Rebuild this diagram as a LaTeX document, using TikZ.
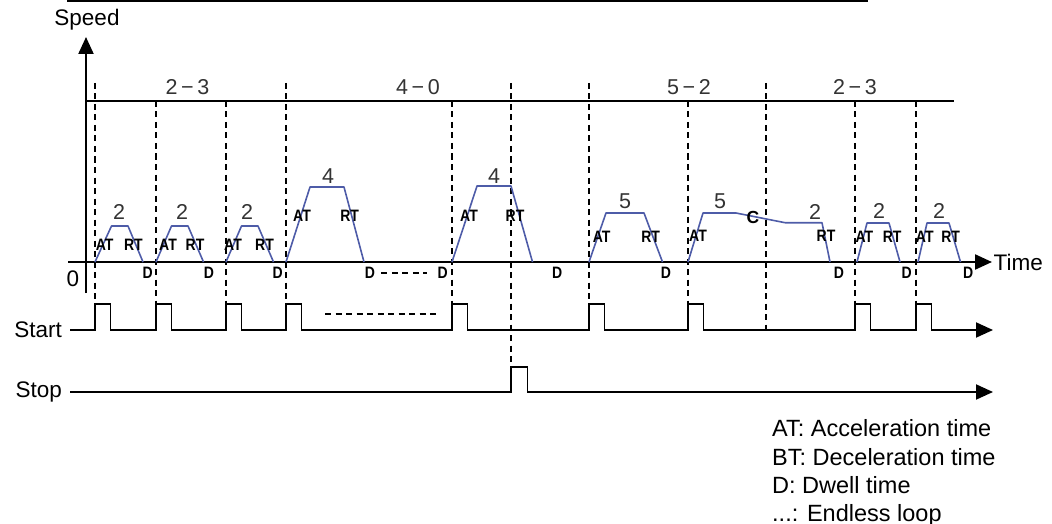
\documentclass[tikz,border=0pt]{standalone}
\usepackage{fontspec}
\setmainfont{Liberation Sans}
\newfontfamily\tagfont[FakeStretch=0.85]{Liberation Sans}
\usetikzlibrary{arrows.meta,positioning}
\definecolor{pblue}{HTML}{4E5CA8}
\definecolor{pgray}{HTML}{333333}

\begin{document}
\begin{tikzpicture}[x=1pt,y=-1pt,every node/.style={font=\fontsize{22.5}{27}\selectfont,inner sep=0pt},tlabel/.style={font=\tagfont\fontsize{16.5}{19}\selectfont\bfseries},num/.style={font=\fontsize{21.5}{25}\selectfont,text=pgray},keytext/.style={font=\fontsize{23.5}{28}\selectfont,anchor=base west},dashline/.style={dash pattern=on 6pt off 4.5pt,line width=1.5pt},prof/.style={pblue,line width=1.6pt,line join=round},sig/.style={line width=1.9pt,-{Triangle[length=17pt,width=15pt]}},axisarrow/.style={line width=2.2pt,-{Triangle[length=17pt,width=15pt]}}]
\useasboundingbox (0,0) rectangle (1052,524);
\draw[line width=2pt] (67,1.2)--(868,1.2);
% grid of dashed markers
\foreach \x/\a/\b in {95/83/304,156/101/304,226/101/304,286/83/304,452/101/304,511/83/367,589/83/304,688/101/304,766/83/330,855/101/304,916/101/304} \draw[dashline] (\x,\a)--(\x,\b);
\draw[line width=1.8pt] (87,101)--(954,101);
\node[num] (g1) at (187.5,87) {2\,−\,3};
\node[num] (g2) at (418,87) {4\,−\,0};
\node[num] (g3) at (689,87) {5\,−\,2};
\node[num] (g4) at (855,87) {2\,−\,3};
% axes
\coordinate (yb) at (86,293); \coordinate (yt) at (86,37);
\coordinate (tb) at (68,262); \coordinate (tt) at (992,262);
\draw[axisarrow] (yb)--(yt); \draw[axisarrow] (tb)--(tt);
\node (speed) at (87,20) {Speed};
\node[right=1.5pt of tt] (time) {Time};
\node (zero) at (73,279) {0};
% speed profile
\foreach \a/\b/\c/\d/\h in {95/111.5/128/143/226,156/171.5/188/203.5/226,226/241.5/258/273.5/226,286/310/344/364/187,452/477/511/532.5/186,589/606/644/662.5/213,857/867/889/900/223,918/927/949/960.5/223} \draw[prof] (\a,262)--(\b,\h)--(\c,\h)--(\d,262);
\draw[prof] (688,262)--(703,213)--(736,213)--(785,222.7)--(822,222.7)--(830,262);
\foreach \x/\y/\t [count=\i] in {119/212/2,182/212/2,247/212/2,328/176/4,494/176/4,625/201/5,720/201/5,815/212/2,879/211/2,939/211/2} \node[num] (n\i) at (\x,\y) {\t};
\foreach \x/\y [count=\i] in {104.7/245,168/245,233/245,302/216,469/216,601.7/237,698/236,864.4/237,924.8/237} \node[tlabel] (at\i) at (\x,\y) {AT};
\foreach \x/\y [count=\i] in {133.4/245,195/245,264.5/245,349.7/216,515/216,650.6/237,826/236,892.2/237,950.7/237} \node[tlabel] (rt\i) at (\x,\y) {RT};
\node[font=\fontsize{17.5}{20}\selectfont\bfseries] (cc) at (753,217) {C};
\foreach \x [count=\i] in {147.7,209,277.7,370,442.7,557.3,666,839,906.7,968.3} \node[tlabel] (d\i) at (\x,273) {D};
\draw[dashline,shorten <=6pt,shorten >=10pt] (d4)--(d5);
% start and stop signals
\coordinate (st0) at (70,330); \coordinate (st1) at (993,330);
\node[left=8pt of st0] (start) {Start};
\draw[sig] (st0) \foreach \x in {95,156,226,286,452,589,688,855,916} {--(\x,330)--(\x,304)--(\x+15.5,304)--(\x+15.5,330)} --(st1);
\draw[dashline] (325,314)--(438,314);
\coordinate (sp0) at (70,392); \coordinate (sp1) at (993,392);
\node[left=8pt of sp0] (stop) {Stop};
\draw[sig] (sp0)--(511,392)--(511,367)--(527.5,367)--(527.5,392)--(sp1);
% legend
\node[keytext] (k1) at (772,436.5) {AT: Acceleration time};
\node[keytext] (k2) at (772,465) {BT: Deceleration time};
\node[keytext] (k3) at (772,493) {D: Dwell time};
\node[keytext] (k4) at (772,521) {...: Endless loop};
\end{tikzpicture}
\end{document}
